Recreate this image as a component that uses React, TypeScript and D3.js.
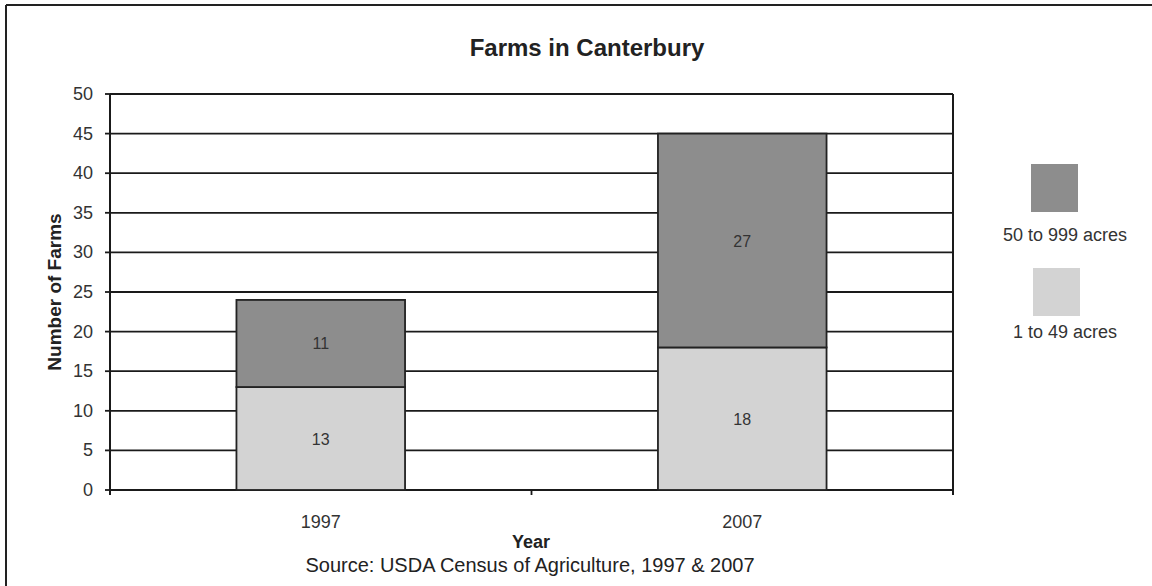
import React from "react";
import * as d3 from "d3";

const years = ["1997", "2007"];
const small = [13, 18]; // 1 to 49 acres
const large = [11, 27]; // 50 to 999 acres
const seriesNames = ["50 to 999 acres", "1 to 49 acres"];
const yTicks = [0, 5, 10, 15, 20, 25, 30, 35, 40, 45, 50];

const W = 1152;
const H = 586;
const M = { left: 110, right: 953, top: 94, bottom: 490 };
const DARK = "#8d8d8d";
const LIGHT = "#d3d3d3";
const FONT = "Liberation Sans, Arial, sans-serif";

export default function App() {
  const x = d3.scaleBand<string>().domain(years).range([M.left, M.right]).padding(0);
  const y = d3.scaleLinear().domain([0, 50]).range([M.bottom, M.top]);
  const bw = x.bandwidth() * 0.4;

  const stacked = years.map((yr, i) => {
    const segs = [
      { v: small[i], y0: 0, y1: small[i], fill: LIGHT },
      { v: large[i], y0: small[i], y1: small[i] + large[i], fill: DARK },
    ];
    return { yr, segs };
  });

  return (
    <svg width={W} height={H} style={{ position: "absolute", left: 0, top: 0, background: "#fff" }} fontFamily={FONT}>
      <rect x={0} y={0} width={W} height={H} fill="#fff" />
      {/* outer frame (top + left) */}
      <line x1={6} y1={5} x2={W} y2={5} stroke="#222" strokeWidth={2} />
      <line x1={6} y1={5} x2={6} y2={H} stroke="#222" strokeWidth={2} />

      <text x={587} y={56} textAnchor="middle" fontSize={24} fontWeight="bold" fill="#222">
        Farms in Canterbury
      </text>

      {/* gridlines */}
      {yTicks.map((t) => (
        <g key={t}>
          <line x1={M.left} x2={M.right} y1={y(t)} y2={y(t)} stroke="#1a1a1a" strokeWidth={1.8} />
          <line x1={M.left - 5} x2={M.left} y1={y(t)} y2={y(t)} stroke="#1a1a1a" strokeWidth={1.8} />
          <text x={M.left - 17} y={y(t) + 6} textAnchor="end" fontSize={18} fill="#333">
            {t}
          </text>
        </g>
      ))}
      {/* axes / frame */}
      <line x1={M.left} x2={M.left} y1={M.top} y2={M.bottom + 5} stroke="#1a1a1a" strokeWidth={2} />
      <line x1={M.right} x2={M.right} y1={M.top} y2={M.bottom + 5} stroke="#1a1a1a" strokeWidth={2} />
      <line x1={(x("2007") as number)} x2={(x("2007") as number)} y1={M.bottom} y2={M.bottom + 5} stroke="#1a1a1a" strokeWidth={1.8} />

      {/* bars */}
      {stacked.map((d) => {
        const cx = (x(d.yr) as number) + x.bandwidth() / 2;
        return (
          <g key={d.yr}>
            {d.segs.map((s, j) => (
              <g key={j}>
                <rect
                  x={cx - bw / 2}
                  y={y(s.y1)}
                  width={bw}
                  height={y(s.y0) - y(s.y1)}
                  fill={s.fill}
                  stroke="#222"
                  strokeWidth={1.8}
                />
                <text x={cx} y={y((s.y0 + s.y1) / 2) + 6} textAnchor="middle" fontSize={16} fill="#333">
                  {s.v}
                </text>
              </g>
            ))}
            <text x={cx} y={528} textAnchor="middle" fontSize={18} fill="#333">
              {d.yr}
            </text>
          </g>
        );
      })}

      {/* axis titles */}
      <text
        transform={`translate(61, ${(M.top + M.bottom) / 2}) rotate(-90)`}
        textAnchor="middle"
        fontSize={19}
        fontWeight="bold"
        fill="#222"
      >
        Number of Farms
      </text>
      <text x={531} y={548} textAnchor="middle" fontSize={18} fontWeight="bold" fill="#222">
        Year
      </text>
      <text x={530} y={572} textAnchor="middle" fontSize={20} fill="#222">
        Source: USDA Census of Agriculture, 1997 &amp; 2007
      </text>

      {/* legend */}
      {seriesNames.map((name, i) => (
        <g key={name}>
          <rect x={1031 + i * 2} y={164 + i * 104} width={47} height={48} fill={i === 0 ? DARK : LIGHT} />
          <text x={1065} y={241 + i * 97} textAnchor="middle" fontSize={18} fill="#333">
            {name}
          </text>
        </g>
      ))}
    </svg>
  );
}
